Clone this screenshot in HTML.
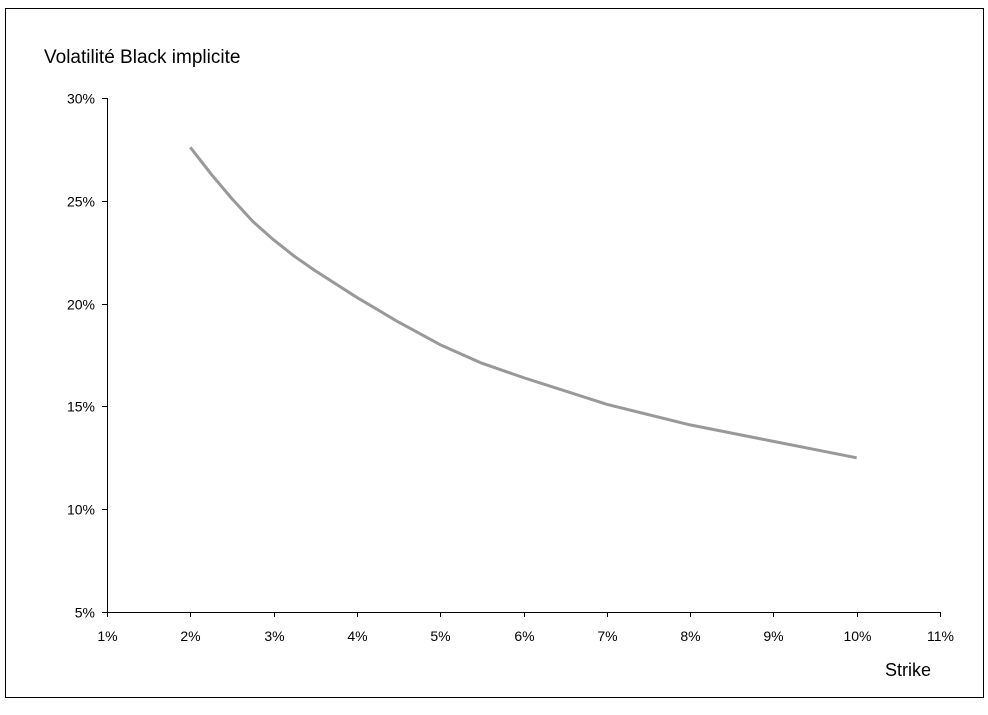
<!DOCTYPE html>
<html><head><meta charset="utf-8"><style>
body{margin:0;background:#fff;}
svg text{font-family:"Liberation Sans",Arial,sans-serif;fill:#000;}
</style></head><body>
<svg width="988" height="710">
<rect x="5.5" y="8.5" width="978" height="689" fill="#fff" stroke="#000"/>
<text x="44" y="63" font-size="19">Volatilité Black implicite</text>
<text x="885" y="676" font-size="18">Strike</text>
<g id="axes"></g>
<path id="curve" fill="none" stroke="#999" stroke-width="3" stroke-linejoin="round"/>
</svg>
<script>
const strikes=[2,2.25,2.5,2.75,3,3.25,3.5,4,4.5,5,5.5,6,7,8,9,9.5,10];
const vols=[27.6,26.3,25.1,24.0,23.1,22.3,21.6,20.3,19.1,18.0,17.1,16.4,15.1,14.1,13.3,12.9,12.5];
const xTicks=[1,2,3,4,5,6,7,8,9,10,11];
const yTicks=[5,10,15,20,25,30];
const X=v=>107+(v-1)*83.3;
const Y=v=>612-(v-5)*20.56;
const ns="http://www.w3.org/2000/svg";
const g=document.getElementById('axes');
function el(t,a){const e=document.createElementNS(ns,t);for(const k in a)e.setAttribute(k,a[k]);g.appendChild(e);return e;}
const xa=el('line',{x1:107,y1:612.5,x2:940,y2:612.5,stroke:'#000'});


const ya=el('line',{x1:107.5,y1:98,x2:107.5,y2:612,stroke:'#000'});


xTicks.forEach(v=>{
 const x=Math.round(X(v))+0.5;
 const t=el('line',{x1:x,y1:612,x2:x,y2:617,stroke:'#000'});
 
 
 const l=el('text',{x:x,y:641,'font-size':14,'text-anchor':'middle'});l.textContent=v+'%';
 
 
});
yTicks.forEach(v=>{
 const y=Math.round(Y(v))+0.5;
 const t=el('line',{x1:102,y1:y,x2:107,y2:y,stroke:'#000'});
 
 
 const l=el('text',{x:95,y:y+5,'font-size':14,'text-anchor':'end'});l.textContent=v+'%';
 
 
});
let d='';
for(let i=0;i<strikes.length;i++){
 const x=X(strikes[i]),y=Y(vols[i]);
 d+=(i===0?'M':' L')+x+','+y;
}
document.getElementById('curve').setAttribute('d',d);
</script>
</body></html>
